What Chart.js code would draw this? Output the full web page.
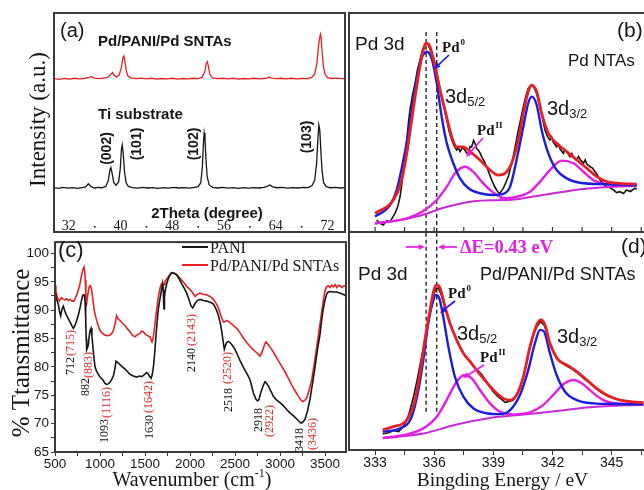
<!DOCTYPE html>
<html>
<head>
<meta charset="utf-8">
<script src="https://cdn.jsdelivr.net/npm/chart.js@4.4.1/dist/chart.umd.min.js"></script>
<style>
  body { margin: 0; background: #fff; }
  #wrap { position: relative; width: 644px; height: 490px; overflow: hidden; background: #fff; }
  canvas { position: absolute; }
</style>
</head>
<body>
<div id="wrap">
  <canvas id="xrd" width="346" height="234" style="left:0px;top:0px"></canvas>
  <canvas id="ir" width="348" height="258" style="left:0px;top:232px"></canvas>
  <canvas id="xpsB" width="314" height="234" style="left:346px;top:0px"></canvas>
  <canvas id="xpsD" width="314" height="260" style="left:346px;top:230px"></canvas>
</div>
<script>
// ---- (a) XRD: 2theta (deg) vs intensity (a.u.)
const XRD_TI = [[29.7,20.3],[30.4,19.9],[31.1,20.4],[31.9,20.0],[32.6,20.3],[33.4,19.9],[34.0,20.3],[34.6,20.6],[35.0,22.0],[35.4,20.8],[35.9,20.1],[36.5,20.4],[37.1,20.2],[37.7,20.8],[38.1,23.5],[38.35,28.5],[38.5,29.4],[38.7,26.5],[38.95,22.5],[39.3,21.4],[39.7,23.0],[39.95,29.0],[40.12,37.5],[40.25,39.7],[40.4,36.0],[40.6,27.5],[40.85,22.5],[41.2,20.8],[41.8,20.3],[42.6,20.0],[43.4,20.4],[44.2,20.1],[45.0,20.3],[45.8,19.9],[46.6,20.3],[47.4,20.0],[48.2,20.4],[49.0,20.1],[49.8,20.3],[50.6,20.0],[51.4,20.4],[52.0,20.7],[52.4,22.5],[52.65,30.0],[52.8,40.0],[52.92,45.2],[53.05,42.5],[53.2,33.0],[53.4,25.0],[53.7,21.5],[54.2,20.4],[55.0,20.1],[55.8,20.4],[56.6,20.0],[57.4,20.3],[58.2,19.9],[59.0,20.3],[59.8,20.0],[60.6,20.3],[61.4,20.1],[62.2,20.4],[62.8,21.1],[63.1,21.5],[63.5,20.6],[64.2,20.2],[65.0,20.4],[65.8,20.0],[66.6,20.3],[67.4,20.1],[68.2,20.4],[69.0,20.3],[69.6,21.2],[70.0,23.5],[70.3,31.0],[70.5,42.0],[70.65,48.9],[70.8,46.5],[70.95,38.0],[71.15,28.0],[71.4,22.5],[71.8,20.7],[72.4,20.2],[73.2,20.4],[74.0,20.1],[74.7,20.3]];
const XRD_PD = [[29.7,70.0],[30.5,69.7],[31.3,70.1],[32.1,69.8],[32.9,70.2],[33.7,69.9],[34.5,70.2],[35.2,70.6],[35.5,71.0],[35.9,70.3],[36.6,70.0],[37.3,70.3],[38.0,70.6],[38.5,72.0],[38.75,72.8],[39.0,71.5],[39.4,70.8],[39.8,71.8],[40.15,75.5],[40.35,79.5],[40.5,80.4],[40.65,78.5],[40.85,74.0],[41.1,71.3],[41.6,70.4],[42.4,70.0],[43.2,70.3],[44.0,69.9],[44.8,70.2],[45.6,69.8],[46.4,70.1],[47.2,69.9],[48.0,70.2],[48.8,69.8],[49.6,70.1],[50.4,69.9],[51.2,70.2],[52.0,70.0],[52.6,70.6],[53.0,73.0],[53.25,77.0],[53.4,77.8],[53.55,76.0],[53.8,72.0],[54.2,70.4],[55.0,70.0],[55.8,70.2],[56.6,69.9],[57.4,70.2],[58.2,69.8],[59.0,70.1],[59.8,69.9],[60.6,70.2],[61.4,69.9],[62.2,70.1],[62.7,70.4],[63.0,70.7],[63.4,70.3],[64.0,70.0],[64.8,70.2],[65.6,69.9],[66.4,70.2],[67.2,69.9],[68.0,70.1],[68.8,70.0],[69.5,70.5],[70.0,72.0],[70.35,77.0],[70.6,85.0],[70.8,89.0],[70.9,90.3],[71.0,89.0],[71.15,83.0],[71.35,76.0],[71.6,72.0],[72.0,70.5],[72.6,70.1],[73.4,70.3],[74.2,70.0],[74.7,70.1]];
const XRD_TICKS = [32, 40, 48, 56, 64, 72];
const XRD_MINOR = [36, 44, 52, 60, 68];
const XRD_HKL = ['(002)', '(101)', '(102)', '(103)'];

// ---- (c) FTIR: wavenumber (cm-1) vs % transmittance
const IR_PANI = [[500,93.3],[515,92.0],[537,91.0],[550,89.8],[563,89.0],[578,90.2],[593,90.7],[608,89.9],[622,89.3],[645,88.6],[667,87.9],[690,87.2],[704,86.8],[722,87.3],[741,88.2],[760,89.2],[778,90.4],[793,91.6],[807,92.6],[826,92.7],[834,91.5],[841,88.5],[847,85.0],[852,83.0],[860,83.3],[870,83.9],[880,85.4],[889,86.4],[900,86.8],[910,85.6],[919,83.9],[930,82.0],[944,80.1],[960,79.3],[981,78.7],[1000,78.2],[1020,77.9],[1037,77.6],[1055,77.1],[1074,76.9],[1093,77.0],[1111,77.3],[1130,77.8],[1148,78.4],[1165,79.6],[1178,81.0],[1195,80.8],[1210,80.6],[1222,80.4],[1250,80.0],[1278,79.6],[1305,79.2],[1333,78.7],[1370,78.4],[1407,78.2],[1435,78.4],[1463,78.3],[1490,78.6],[1519,79.0],[1535,78.8],[1548,78.4],[1567,78.0],[1580,78.6],[1593,79.9],[1608,82.5],[1622,85.6],[1635,88.0],[1648,90.2],[1662,91.6],[1674,92.7],[1685,93.8],[1696,94.7],[1703,93.5],[1708,91.0],[1711,90.2],[1716,92.2],[1726,93.6],[1742,94.7],[1759,95.6],[1778,96.2],[1796,96.6],[1825,96.5],[1852,96.2],[1880,95.5],[1907,94.7],[1935,93.9],[1963,93.0],[1990,91.8],[2010,90.8],[2030,90.4],[2050,91.0],[2074,91.6],[2111,91.9],[2150,91.7],[2185,91.6],[2225,91.4],[2259,91.1],[2290,90.2],[2315,89.1],[2335,87.8],[2352,86.3],[2368,84.5],[2381,83.1],[2395,83.8],[2407,84.3],[2425,84.5],[2444,84.3],[2470,83.8],[2500,83.1],[2528,82.1],[2556,81.1],[2585,80.2],[2611,79.4],[2640,78.6],[2667,77.7],[2686,76.6],[2704,75.4],[2720,74.8],[2733,74.3],[2750,74.0],[2765,74.2],[2785,75.4],[2810,76.6],[2833,77.4],[2850,77.1],[2870,76.6],[2900,75.7],[2926,74.8],[2960,74.2],[3000,73.7],[3040,73.1],[3074,72.5],[3110,71.9],[3148,71.4],[3180,70.9],[3204,70.5],[3225,70.2],[3241,70.1],[3260,70.4],[3278,70.8],[3305,72.2],[3333,74.3],[3360,77.0],[3389,80.0],[3415,83.0],[3444,85.7],[3462,88.2],[3481,90.3],[3500,91.8],[3519,92.9],[3537,93.2],[3556,93.3],[3590,93.2],[3630,93.2],[3670,93.0],[3700,92.8],[3733,92.5]];
const IR_PD = [[500,94.4],[510,93.5],[519,92.7],[535,91.9],[548,91.6],[560,92.0],[574,92.2],[592,91.9],[611,91.8],[630,92.0],[648,91.7],[667,91.9],[690,91.6],[711,91.6],[726,92.1],[741,92.7],[760,93.6],[778,94.7],[793,96.0],[807,97.0],[822,97.6],[830,96.8],[837,95.3],[843,92.5],[848,90.7],[857,92.0],[867,93.0],[878,94.0],[889,94.3],[898,94.1],[907,93.6],[920,92.0],[933,90.2],[948,89.1],[963,88.2],[980,87.3],[1000,86.4],[1028,85.9],[1056,85.6],[1085,85.5],[1111,85.6],[1130,85.9],[1148,86.4],[1166,87.5],[1185,89.0],[1203,88.4],[1222,88.2],[1250,87.7],[1278,87.3],[1305,86.7],[1333,86.2],[1360,85.6],[1389,85.3],[1415,85.7],[1444,85.9],[1462,86.3],[1481,86.2],[1500,85.8],[1519,85.6],[1540,85.4],[1556,85.3],[1568,84.8],[1578,84.4],[1590,85.0],[1600,86.2],[1615,88.2],[1630,90.2],[1645,92.0],[1659,93.3],[1672,94.2],[1685,94.7],[1695,94.6],[1704,94.2],[1712,94.6],[1722,95.0],[1740,95.5],[1759,95.9],[1778,96.3],[1796,96.6],[1825,96.5],[1852,96.3],[1880,95.8],[1907,95.3],[1935,94.8],[1963,94.2],[1990,93.8],[2019,93.3],[2040,92.8],[2056,92.4],[2074,92.7],[2111,93.0],[2150,92.8],[2185,92.7],[2225,92.4],[2259,91.9],[2290,91.2],[2315,90.4],[2340,89.2],[2370,87.9],[2390,88.0],[2407,88.2],[2435,87.9],[2463,87.6],[2490,87.2],[2519,86.8],[2556,86.0],[2593,85.1],[2630,84.3],[2667,83.6],[2705,83.0],[2741,82.5],[2760,82.2],[2778,81.9],[2797,82.5],[2815,83.3],[2830,84.0],[2844,84.4],[2875,83.8],[2907,83.1],[2945,82.1],[2981,81.1],[3020,80.1],[3056,79.1],[3093,78.0],[3130,76.8],[3167,75.8],[3204,74.8],[3230,74.2],[3252,73.9],[3275,74.1],[3296,74.5],[3325,76.0],[3352,77.7],[3380,80.5],[3407,83.4],[3435,86.5],[3463,89.7],[3482,91.8],[3500,93.5],[3518,94.1],[3537,94.3],[3555,94.0],[3573,94.4],[3593,94.1],[3612,94.5],[3630,94.0],[3650,94.4],[3667,94.3],[3690,94.0],[3710,94.3],[3733,94.1]];
const IR_SERIES = ['PANI', 'Pd/PANI/Pd SNTAs'];
// band positions: black = PANI, red = Pd/PANI/Pd SNTAs
const IR_BANDS_PANI = ['712', '882', '1093', '1630', '2140', '2518', '2918', '3418'];
const IR_BANDS_PD = ['(715)', '(883)', '(1116)', '(1642)', '(2143)', '(2520)', '(2922)', '(3436)'];
const IR_X_TICKS = [500, 750, 1000, 1250, 1500, 1750, 2000, 2250, 2500, 2750, 3000, 3250, 3500];
const IR_X_LABELS = [500, 1000, 1500, 2000, 2500, 3000, 3500];

// ---- (b) XPS Pd 3d of Pd NTAs: binding energy (eV) vs counts (a.u.)
const XPS_B_RAW = [[333.08,5.5],[333.25,4.0],[333.42,3.2],[333.6,5.2],[333.76,4.7],[333.9,6.8],[334.01,8.5],[334.15,11.5],[334.27,16.1],[334.36,22.0],[334.44,29.8],[334.52,35.5],[334.61,42.0],[334.69,49.5],[334.77,55.7],[334.9,62.5],[335.03,67.9],[335.15,74.0],[335.28,78.5],[335.4,83.0],[335.54,85.4],[335.65,86.2],[335.76,84.0],[335.87,81.6],[335.95,80.2],[336.04,77.0],[336.12,73.5],[336.21,69.4],[336.3,65.0],[336.38,61.8],[336.5,56.5],[336.64,51.1],[336.76,46.0],[336.89,42.0],[337.0,39.5],[337.14,37.4],[337.22,38.5],[337.31,36.7],[337.45,38.6],[337.56,37.4],[337.65,36.0],[337.73,35.9],[337.82,39.0],[337.9,38.9],[338.0,41.8],[338.07,40.5],[338.16,38.0],[338.24,37.4],[338.33,36.0],[338.41,34.4],[338.55,32.0],[338.66,29.8],[338.8,26.5],[338.92,23.7],[339.05,21.0],[339.17,19.2],[339.26,18.0],[339.34,17.7],[339.42,18.9],[339.51,20.0],[339.63,22.5],[339.76,25.3],[339.88,29.5],[340.01,34.4],[340.14,40.5],[340.27,46.6],[340.4,52.0],[340.52,57.2],[340.65,62.0],[340.77,65.6],[340.86,66.5],[340.94,67.1],[341.07,65.8],[341.2,63.3],[341.28,60.0],[341.37,57.2],[341.5,51.5],[341.62,46.6],[341.75,43.5],[341.87,42.0],[341.96,43.4],[342.04,41.0],[342.21,38.9],[342.3,40.1],[342.38,38.0],[342.55,35.9],[342.63,37.6],[342.72,36.5],[342.89,34.4],[342.98,35.8],[343.06,34.0],[343.23,32.9],[343.32,34.5],[343.4,33.2],[343.57,31.4],[343.66,32.9],[343.74,31.0],[343.91,29.8],[344.03,29.2],[344.16,27.5],[344.28,26.0],[344.41,23.7],[344.58,22.0],[344.75,20.7],[344.92,20.2],[345.09,19.2],[345.25,18.0],[345.42,18.4],[345.6,17.6],[345.76,19.2],[345.95,18.5],[346.18,20.0],[346.27,19.6]];
const XPS_B_ENV = [[333.0,8.5],[333.93,14.6],[334.35,23.7],[334.61,35.9],[334.86,51.1],[335.11,66.3],[335.37,80.0],[335.59,86.2],[335.79,84.6],[336.04,75.5],[336.30,64.8],[336.55,55.7],[336.89,43.5],[337.14,38.9],[337.48,38.9],[337.82,36.7],[338.32,32.9],[338.83,28.3],[339.25,26.0],[339.59,26.8],[339.93,31.4],[340.27,42.0],[340.52,54.2],[340.77,64.1],[340.94,67.1],[341.20,64.1],[341.45,54.2],[341.79,45.1],[342.21,40.5],[342.72,36.7],[343.23,32.9],[343.74,29.1],[344.24,25.3],[344.75,23.0],[345.42,22.2],[346.27,21.9]];
const XPS_B_PD0 = [[333.0,7.0],[333.76,12.3],[334.10,19.2],[334.44,32.9],[334.69,45.1],[334.94,60.3],[335.28,77.0],[335.62,82.3],[335.87,79.3],[336.13,67.9],[336.38,52.6],[336.64,40.5],[336.97,31.4],[337.31,24.5],[337.74,20.0],[338.32,17.7],[339.00,16.9],[339.51,17.4],[339.85,20.7],[340.18,32.9],[340.52,48.1],[340.77,58.8],[340.94,61.8],[341.20,58.0],[341.45,46.6],[341.79,35.9],[342.21,28.3],[342.72,24.5],[343.40,22.5],[344.75,21.8],[346.27,21.3]];
const XPS_B_PD2A = [[333.0,4.0],[334.61,6.2],[335.45,9.6],[336.13,14.6],[336.64,20.7],[337.06,26.8],[337.56,29.8],[337.99,27.5],[338.41,23.0],[338.83,19.2],[339.34,16.1],[339.85,15.2]];
const XPS_B_PD2B = [[339.34,15.0],[340.18,16.1],[340.86,18.4],[341.37,23.0],[341.87,28.3],[342.47,32.6],[343.06,31.4],[343.57,27.5],[344.07,23.7],[344.75,21.8],[346.27,21.3]];
const XPS_B_BG = [[333.0,3.8],[334.61,6.0],[335.62,8.3],[336.30,10.6],[337.14,12.6],[337.99,14.0],[338.83,14.5],[339.68,14.6],[340.52,15.4],[341.37,16.7],[342.21,17.9],[343.06,19.1],[344.75,20.5],[346.27,21.1]];

// ---- (d) XPS Pd 3d of Pd/PANI/Pd SNTAs
const XPS_D_RAW = [[333.39,7.5],[333.7,8.0],[333.93,9.0],[334.2,8.5],[334.45,11.0],[334.7,16.0],[334.95,24.5],[335.15,33.0],[335.35,42.5],[335.55,52.0],[335.75,62.5],[335.95,71.5],[336.1,74.8],[336.2,75.0],[336.35,72.0],[336.55,66.0],[336.7,62.0],[336.85,57.5],[337.0,54.5],[337.2,49.5],[337.4,46.5],[337.6,43.0],[337.8,41.5],[338.0,38.5],[338.2,37.0],[338.4,35.0],[338.6,32.5],[338.8,29.5],[339.0,27.0],[339.2,25.0],[339.4,23.5],[339.6,22.0],[339.8,22.5],[340.0,23.0],[340.2,25.5],[340.4,30.0],[340.6,36.5],[340.8,45.0],[341.0,52.5],[341.2,57.0],[341.4,59.5],[341.6,57.5],[341.8,51.5],[342.0,46.5],[342.2,42.5],[342.45,40.5],[342.7,39.0],[343.0,37.5],[343.3,35.5],[343.6,33.0],[343.9,31.0],[344.2,28.5],[344.5,26.5],[344.8,25.0],[345.1,24.0],[345.5,23.0],[346.0,22.3],[346.61,22.0]];
const XPS_D_ENV = [[333.39,9.3],[333.93,10.8],[334.61,13.9],[335.03,23.1],[335.28,35.5],[335.53,50.9],[335.79,64.8],[335.99,74.1],[336.13,76.4],[336.30,74.9],[336.55,66.4],[336.80,58.6],[337.14,50.9],[337.48,44.8],[337.82,40.9],[338.15,37.0],[338.49,33.2],[339.0,27.8],[339.51,23.9],[339.85,23.1],[340.18,25.5],[340.52,33.9],[340.86,47.8],[341.20,57.9],[341.42,60.2],[341.62,57.9],[341.87,49.4],[342.30,41.7],[342.72,39.4],[343.23,36.3],[343.74,32.4],[344.24,28.5],[344.75,25.5],[345.43,23.1],[346.61,21.9]];
const XPS_D_PD0 = [[333.39,8.5],[334.27,10.0],[334.86,15.4],[335.20,27.8],[335.45,41.7],[335.70,58.6],[335.96,69.4],[336.09,71.8],[336.26,70.2],[336.46,61.7],[336.72,47.8],[337.05,33.9],[337.48,24.7],[337.98,19.3],[338.66,17.0],[339.34,16.6],[339.85,18.5],[340.35,25.5],[340.77,37.0],[341.11,49.4],[341.37,55.6],[341.57,54.8],[341.87,44.8],[342.21,34.7],[342.64,27.0],[343.23,23.1],[344.07,21.6],[345.26,21.3],[346.61,21.1]];
const XPS_D_PD2A = [[333.39,5.6],[334.61,7.2],[335.45,10.0],[336.13,15.4],[336.63,23.1],[337.14,31.6],[337.53,34.7],[337.90,33.2],[338.32,27.8],[338.83,21.6],[339.34,17.7],[340.01,16.4]];
const XPS_D_PD2B = [[340.01,16.4],[340.86,17.4],[341.54,20.9],[342.04,25.5],[342.55,30.4],[343.06,32.4],[343.48,30.9],[343.99,27.0],[344.58,23.1],[345.26,21.6],[346.61,21.2]];
const XPS_D_BG = [[333.39,5.4],[335.45,7.6],[337.14,11.8],[338.83,14.8],[340.52,16.4],[342.21,18.0],[343.91,19.8],[346.61,21.0]];

// Pd0 3d5/2 positions of the two samples (dashed lines) and their vertical extent
const DASH_E = [335.59, 336.13];
const DASH_B_Y = [0, 91.5];
const DASH_D_Y = [17.7, 100.9];
const XPS_B_TICKS = [333, 334.5, 336, 337.5, 339, 340.5, 342, 343.5, 345, 346.5];

const SANS = '"Liberation Sans", Arial, sans-serif';
const SERIF = '"Liberation Serif", "Times New Roman", serif';
const INK = '#161616';
const FRAME = '#3a3a3a';
const RED = 'rgb(232,32,36)';
const TXT_RED = 'rgb(225,45,45)';
const BLUE = 'rgb(28,28,225)';
const MAGENTA = 'rgb(228,30,228)';
const BG_LINE = 'rgb(200,40,215)';

Chart.defaults.font.family = 'Liberation Sans';
Chart.defaults.color = INK;

function put(ctx, s, x, y, font, color, align, rot) {
  ctx.save();
  ctx.font = font;
  ctx.fillStyle = color || INK;
  ctx.textAlign = align || 'left';
  ctx.textBaseline = rot ? 'middle' : 'alphabetic';
  ctx.translate(x, y);
  if (rot) ctx.rotate(-Math.PI / 2);
  ctx.fillText(s, 0, 0);
  ctx.restore();
}

function arrow(ctx, x1, y1, x2, y2, color) {
  const a = Math.atan2(y2 - y1, x2 - x1), h = 7;
  ctx.save();
  ctx.strokeStyle = color; ctx.fillStyle = color; ctx.lineWidth = 1.7;
  ctx.beginPath();
  ctx.moveTo(x1, y1);
  ctx.lineTo(x2 - Math.cos(a) * h * 0.7, y2 - Math.sin(a) * h * 0.7);
  ctx.stroke();
  ctx.beginPath();
  ctx.moveTo(x2, y2);
  ctx.lineTo(x2 - h * Math.cos(a - 0.42), y2 - h * Math.sin(a - 0.42));
  ctx.lineTo(x2 - h * Math.cos(a + 0.42), y2 - h * Math.sin(a + 0.42));
  ctx.closePath();
  ctx.fill();
  ctx.restore();
}

// "Pd" with its oxidation state raised
function pdState(ctx, sup, x, y) {
  ctx.save();
  ctx.fillStyle = INK;
  ctx.font = 'bold 15px ' + SERIF;
  ctx.fillText('Pd', x, y);
  const w = ctx.measureText('Pd').width;
  ctx.font = 'bold 9px ' + SERIF;
  ctx.fillText(sup, x + w + 1, y - 7);
  ctx.restore();
}

// "3d" with the spin-orbit subscript
function orbital(ctx, sub, x, y) {
  ctx.save();
  ctx.fillStyle = INK;
  ctx.font = '20px ' + SANS;
  ctx.fillText('3d', x, y);
  const w = ctx.measureText('3d').width;
  ctx.font = '13px ' + SANS;
  ctx.fillText(sub, x + w, y + 3);
  ctx.restore();
}

const framePlugin = {
  id: 'frame',
  afterDraw(chart) {
    const { ctx, chartArea: a } = chart;
    ctx.save();
    ctx.strokeStyle = FRAME;
    ctx.lineWidth = 2;
    ctx.strokeRect(a.left, a.top, a.right - a.left, a.bottom - a.top);
    ctx.restore();
  }
};

const base = {
  responsive: false,
  animation: false,
  devicePixelRatio: 1,
  events: [],
  plugins: { legend: { display: false }, tooltip: { enabled: false } },
  elements: { point: { radius: 0 } }
};

function line(data, color, width, extra) {
  return Object.assign({ data: data, borderColor: color, borderWidth: width, pointRadius: 0, fill: false, tension: 0 }, extra || {});
}
const smooth = { cubicInterpolationMode: 'monotone' };

// ---------- (a)
new Chart(document.getElementById('xrd'), {
  type: 'line',
  data: { datasets: [line(XRD_PD, RED, 1.3), line(XRD_TI, INK, 1.3)] },
  options: Object.assign({}, base, {
    layout: { padding: { left: 54, top: 13, right: 1, bottom: 2 } },
    scales: {
      x: { type: 'linear', min: 29.7, max: 74.7, display: false },
      y: { min: 0, max: 100, display: false }
    }
  }),
  plugins: [framePlugin, {
    id: 'xrdText',
    afterDraw(chart) {
      const ctx = chart.ctx, sx = chart.scales.x;
      put(ctx, '(a)', 60, 37, '20px ' + SANS);
      put(ctx, 'Pd/PANI/Pd SNTAs', 98, 46, 'bold 15px ' + SANS);
      put(ctx, 'Ti substrate', 98, 119, 'bold 15px ' + SANS);
      const hklPos = [[107.5, 148.5], [137.5, 144], [194, 144], [307.5, 137]];
      XRD_HKL.forEach((s, i) => put(ctx, s, hklPos[i][0], hklPos[i][1], 'bold 14px ' + SANS, INK, 'center', true));
      put(ctx, '2Theta (degree)', 207, 218, 'bold 15px ' + SANS, INK, 'center');
      XRD_TICKS.forEach(v => put(ctx, String(v), sx.getPixelForValue(v), 230, '14px ' + SERIF, INK, 'center'));
      ctx.fillStyle = INK;
      XRD_MINOR.forEach(v => ctx.fillRect(sx.getPixelForValue(v) - 0.8, 226, 1.6, 1.6));
      put(ctx, 'Intensity (a.u.)', 39, 119.5, '23px ' + SERIF, INK, 'center', true);
    }
  }]
});

// ---------- (c)
new Chart(document.getElementById('ir'), {
  type: 'line',
  data: { datasets: [line(IR_PANI, INK, 1.6), line(IR_PD, RED, 1.6)] },
  options: Object.assign({}, base, {
    layout: { padding: { left: 0, top: 4, right: 2, bottom: 0 } },
    scales: {
      x: {
        type: 'linear', min: 500, max: 3733,
        border: { display: false },
        grid: { drawOnChartArea: false, tickLength: 4, tickColor: FRAME },
        afterBuildTicks: s => { s.ticks = IR_X_TICKS.map(v => ({ value: v })); },
        ticks: {
          autoSkip: false, maxRotation: 0, minRotation: 0, padding: 0,
          color: INK, font: { family: 'Liberation Sans', size: 13.5 },
          callback: v => (IR_X_LABELS.includes(v) ? String(v) : '')
        },
        afterFit: s => { s.height = 38; }
      },
      y: {
        min: 65, max: 102,
        border: { display: false },
        grid: { drawOnChartArea: false, tickLength: 4, tickColor: FRAME },
        ticks: {
          stepSize: 2.5, includeBounds: false, autoSkip: false, padding: 2,
          color: INK, font: { family: 'Liberation Sans', size: 13.5 },
          callback: v => (v % 5 === 0 ? String(v) : '')
        },
        afterFit: s => { s.width = 55; }
      }
    }
  }),
  plugins: [framePlugin, {
    id: 'irText',
    afterDraw(chart) {
      const ctx = chart.ctx;
      ctx.save();
      ctx.translate(0, -232);
      put(ctx, '(c)', 58, 257, '22px ' + SANS);
      ctx.lineWidth = 2;
      ctx.strokeStyle = INK;
      ctx.beginPath(); ctx.moveTo(182, 247); ctx.lineTo(208, 247); ctx.stroke();
      ctx.strokeStyle = RED;
      ctx.beginPath(); ctx.moveTo(182, 265); ctx.lineTo(208, 265); ctx.stroke();
      put(ctx, IR_SERIES[0], 210, 253, '16px ' + SERIF);
      put(ctx, IR_SERIES[1], 210, 271, '16px ' + SERIF);
      // rotated band labels: [x centre, bottom y]
      const pPos = [[71, 375], [86, 396], [105, 443], [150, 439], [191.5, 372], [229, 412], [258.5, 432], [300, 452]];
      const rPos = [[71, 356], [89, 378], [106.5, 418], [148.5, 413], [191.5, 346], [228, 384], [270, 437], [313, 450]];
      IR_BANDS_PANI.forEach((s, i) => put(ctx, s, pPos[i][0], pPos[i][1], '12px ' + SERIF, INK, 'left', true));
      IR_BANDS_PD.forEach((s, i) => put(ctx, s, rPos[i][0], rPos[i][1], '12px ' + SERIF, TXT_RED, 'left', true));
      put(ctx, '% Ttansmittance', 22, 353, '25px ' + SERIF, INK, 'center', true);
      ctx.font = '20px ' + SERIF;
      const t1 = 'Wavenumber (cm', w1 = ctx.measureText(t1).width;
      ctx.font = '12px ' + SERIF;
      const w2 = ctx.measureText('-1').width;
      ctx.font = '20px ' + SERIF;
      const w3 = ctx.measureText(')').width;
      const x0 = 192 - (w1 + w2 + w3) / 2;
      put(ctx, t1, x0, 486, '20px ' + SERIF);
      put(ctx, '-1', x0 + w1, 477, '12px ' + SERIF);
      put(ctx, ')', x0 + w1 + w2, 486, '20px ' + SERIF);
      ctx.restore();
    }
  }]
});

function xpsSets(env, pd0, pd2a, pd2b, bg, raw, dashY) {
  return [
    line(env, RED, 2.8, smooth),
    line(pd0, BLUE, 2.4, smooth),
    line(pd2a, MAGENTA, 2.4, smooth),
    line(pd2b, MAGENTA, 2.4, smooth),
    line(bg, BG_LINE, 2, smooth),
    line(dashY.map(y => [DASH_E[0], y]), INK, 1.3, { borderDash: [4, 3] }),
    line(dashY.map(y => [DASH_E[1], y]), INK, 1.3, { borderDash: [4, 3] }),
    line(raw, INK, 1.6)
  ];
}

// ---------- (b)
new Chart(document.getElementById('xpsB'), {
  type: 'line',
  data: { datasets: xpsSets(XPS_B_ENV, XPS_B_PD0, XPS_B_PD2A, XPS_B_PD2B, XPS_B_BG, XPS_B_RAW, DASH_B_Y) },
  options: Object.assign({}, base, {
    layout: { padding: { left: 3, top: 13, right: 4, bottom: 2 } },
    scales: {
      x: { type: 'linear', min: 331.68, max: 347.25, display: false },
      y: { min: 0, max: 100, display: false }
    }
  }),
  plugins: [framePlugin, {
    id: 'bText',
    afterDraw(chart) {
      const ctx = chart.ctx, sx = chart.scales.x, bot = chart.chartArea.bottom;
      ctx.save();
      ctx.strokeStyle = FRAME; ctx.lineWidth = 1.2;
      XPS_B_TICKS.forEach(v => {
        const x = sx.getPixelForValue(v);
        ctx.beginPath(); ctx.moveTo(x, bot); ctx.lineTo(x, bot - 5); ctx.stroke();
      });
      ctx.translate(-346, 0);
      put(ctx, 'Pd 3d', 355, 50, '19px ' + SANS);
      put(ctx, '(b)', 617, 37, '21px ' + SANS);
      put(ctx, 'Pd NTAs', 568, 66, '17px ' + SANS);
      orbital(ctx, '5/2', 445, 103);
      orbital(ctx, '3/2', 547, 115);
      pdState(ctx, '0', 442, 52);
      arrow(ctx, 449, 55, 434, 69, BLUE);
      pdState(ctx, 'II', 477, 135);
      arrow(ctx, 483, 138, 466, 157, MAGENTA);
      ctx.restore();
    }
  }]
});

// ---------- (d)
new Chart(document.getElementById('xpsD'), {
  type: 'line',
  data: { datasets: xpsSets(XPS_D_ENV, XPS_D_PD0, XPS_D_PD2A, XPS_D_PD2B, XPS_D_BG, XPS_D_RAW, DASH_D_Y) },
  options: Object.assign({}, base, {
    layout: { padding: { left: 3, top: 2, right: 4, bottom: 0 } },
    scales: {
      x: {
        type: 'linear', min: 331.68, max: 347.25,
        border: { display: false },
        grid: { drawOnChartArea: false, tickLength: 5, tickColor: FRAME },
        ticks: {
          stepSize: 1.5, includeBounds: false, autoSkip: false, maxRotation: 0, padding: 0,
          color: INK, font: { family: 'Liberation Sans', size: 14 },
          callback: v => (Math.abs(v % 3) < 1e-6 ? String(v) : '')
        },
        title: {
          display: true, text: 'Bingding Energy / eV', color: INK, padding: 0,
          font: { family: 'Liberation Serif', size: 19.5, lineHeight: 0.9 }
        },
        afterFit: s => { s.height = 40; }
      },
      y: { min: 0, max: 100.9, display: false }
    }
  }),
  plugins: [framePlugin, {
    id: 'dText',
    afterDraw(chart) {
      const ctx = chart.ctx;
      ctx.save();
      ctx.translate(-346, -230);
      arrow(ctx, 406, 247, 425, 247, MAGENTA);
      arrow(ctx, 457, 247, 438, 247, MAGENTA);
      put(ctx, '\u0394E=0.43 eV', 460, 253, 'bold 18.5px ' + SERIF, MAGENTA);
      put(ctx, '(d)', 621, 253, '21px ' + SANS);
      put(ctx, 'Pd 3d', 358, 280, '19px ' + SANS);
      put(ctx, 'Pd/PANI/Pd SNTAs', 480, 280, '18px ' + SANS);
      pdState(ctx, '0', 448, 298);
      arrow(ctx, 455, 301, 440, 313, BLUE);
      orbital(ctx, '5/2', 457, 340);
      pdState(ctx, 'II', 480, 362);
      arrow(ctx, 484, 365, 463, 378, MAGENTA);
      orbital(ctx, '3/2', 557, 343);
      ctx.restore();
    }
  }]
});
</script>
</body>
</html>
